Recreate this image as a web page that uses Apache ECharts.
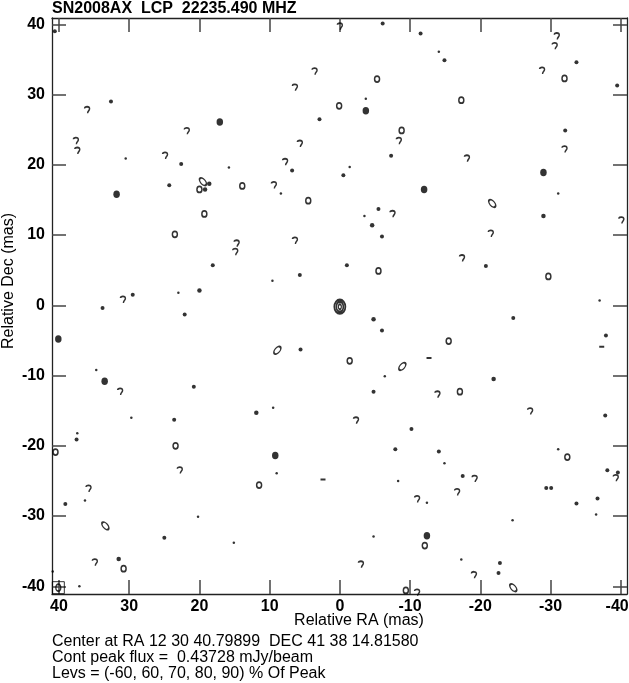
<!DOCTYPE html>
<html>
<head>
<meta charset="utf-8">
<script src="https://cdn.jsdelivr.net/npm/echarts@6/dist/echarts.min.js"></script>
<style>
  html, body { margin: 0; padding: 0; background: #fff; }
  #chart { width: 629px; height: 683px; }
</style>
</head>
<body>
<div id="chart"></div>
<script>
  // 轴刻度 (mas)
  const tickValues = [-40, -30, -20, -10, 0, 10, 20, 30, 40];

  // 等值线小块位置 [RA, Dec] (mas)
  const dots = [[40.6,39.0],[32.6,29.0],[22.6,20.1],[24.3,17.1],[-6.1,40.1],[-11.5,38.7],[2.9,26.5],[-7.3,21.3],[6.8,19.2],[-0.5,18.5],[-5.5,13.7],[-14.9,34.9],[-33.7,34.6],[-39.5,31.3],[-32.1,24.9],[18.1,5.7],[29.5,1.5],[33.8,-0.4],[22.1,-1.3],[20.8,-11.6],[-6.0,9.8],[-1.0,5.7],[5.7,4.3],[-6.0,-3.6],[5.6,-6.3],[-4.8,-12.3],[-20.8,5.6],[-24.7,-1.8],[-37.9,-4.3],[23.6,-16.3],[37.5,-19.1],[39.1,-28.3],[25.0,-33.1],[-10.2,-17.6],[-7.9,-20.5],[-37.8,-15.7],[-14.1,-20.8],[-17.5,-24.3],[-38.1,-23.5],[-39.6,-23.8],[-29.4,-26.0],[-30.1,-26.0],[-33.7,-28.2],[-36.7,-27.5],[-22.8,-36.7],[-22.6,-38.1]];
  const specks = [[30.5,20.9],[15.8,19.6],[-3.7,29.4],[-1.4,19.7],[8.4,15.9],[-14.1,36.1],[-31.1,15.9],[23.0,1.8],[34.7,-9.2],[-3.5,12.7],[9.6,3.5],[-6.4,-10.1],[-37.0,0.7],[29.7,-16.0],[37.4,-18.2],[36.3,-27.8],[20.2,-30.1],[15.1,-33.8],[40.9,-37.9],[37.1,-40.0],[9.5,-14.6],[9.0,-23.9],[-8.3,-25.0],[-12.4,-28.1],[-4.8,-32.9],[-14.9,-22.5],[-31.1,-20.5],[-36.5,-29.8],[-24.6,-30.6],[-17.3,-36.2]];
  const smallSpots = [[18.6,17.3],[19.2,16.5],[20.0,2.1],[-4.6,11.4],[-4.8,-2.0],[-29.0,12.7],[-21.9,-10.5],[31.5,-36.1],[11.9,-15.3]];
  const rings = [[20.0,16.5],[13.9,17.0],[-5.3,32.2],[0.1,28.4],[-8.8,24.9],[4.5,14.9],[-32.0,32.3],[-17.3,29.2],[19.3,13.0],[23.5,10.1],[-5.5,4.9],[-1.4,-7.9],[-29.7,4.1],[-15.5,-5.1],[-17.1,-12.3],[40.5,-20.9],[23.4,-20.0],[30.8,-37.5],[11.5,-25.6],[-12.1,-34.2],[-9.4,-40.6],[-32.4,-21.6]];
  const blobs = [[17.1,26.1],[31.8,15.8],[-3.7,27.7],[-12.0,16.5],[-29.0,18.9],[40.1,-4.8],[33.5,-10.8],[9.2,-21.4],[-12.4,-32.8]];
  const arcs = [[36.0,27.8],[21.8,24.8],[37.6,23.4],[37.4,22.0],[24.9,21.3],[0.0,39.7],[3.6,33.3],[6.4,31.0],[-8.4,23.4],[5.7,23.0],[7.8,20.4],[9.4,17.1],[-30.9,38.3],[-30.6,36.9],[-28.8,33.4],[-32.0,22.2],[-18.1,20.9],[14.7,8.8],[14.9,7.6],[30.9,0.8],[31.3,-12.3],[-7.5,13.0],[6.4,9.2],[-40.1,12.1],[-21.5,10.2],[-17.4,6.7],[-13.9,-12.7],[22.8,-23.5],[35.8,-26.1],[34.9,-36.6],[-2.3,-16.4],[-11.0,-27.6],[-3.0,-36.9],[-11.0,-40.9],[-27.1,-15.1],[-19.2,-24.7],[-16.7,-26.6],[-39.3,-24.6],[-19.1,-38.4]];
  const dashes = [[-12.7,-7.5],[-37.3,-5.9],[2.4,-24.8]];
  const ellipsesRising = [[8.9,-6.4],[-8.9,-8.7]];
  const ellipsesFalling = [[19.5,17.6],[-21.7,14.5],[33.4,-31.4],[-24.7,-40.2]];
  const peak = [[0.0,-0.2]];
  const beam = [[40.1,-40.2]];

  const titleText = 'SN2008AX  LCP  22235.490 MHZ';
  const footLines = [
    'Center at RA 12 30 40.79899  DEC 41 38 14.81580',
    'Cont peak flux =  0.43728 mJy/beam',
    'Levs = (-60, 60, 70, 80, 90) % Of Peak',
  ];

  const font = 'Liberation Sans, Arial, Helvetica, sans-serif';
  const ink = '#000';

  const labelStyle = { color: ink, fontFamily: font, fontWeight: 'bold', fontSize: 16 };

  const makeAxis = (isX, pos, showLabel) => ({
    type: 'value',
    position: pos,
    min: isX ? -40.9 : -41.1,
    max: isX ? 41.0 : 40.9,
    inverse: isX,
    splitLine: { show: false },
    axisLine: { show: true, onZero: false, lineStyle: { color: '#222', width: 1.3 } },
    axisTick: {
      show: true,
      inside: true,
      length: 14,
      customValues: tickValues,
      lineStyle: { color: '#444', width: 1.5 },
    },
    axisLabel: Object.assign(
      {
        show: true,
        customValues: tickValues,
        margin: isX ? 5 : 7,
        // 右端 -40 稍微左移，避免被画布裁掉
        formatter: (v) => (!showLabel ? '' : isX && v === -40 ? '{edge|' + v + '}' : '' + v),
        rich: { edge: Object.assign({ padding: [0, 7, 0, 0] }, labelStyle) },
      },
      labelStyle
    ),
  });

  const spots = (data, symbol, size, filled, extra) =>
    Object.assign(
      {
        type: 'scatter',
        data: data,
        symbol: symbol,
        symbolSize: size,
        silent: true,
        itemStyle: filled
          ? { color: ink }
          : { color: 'transparent', borderColor: ink, borderWidth: 1.6 },
      },
      extra || {}
    );

  const hook = 'path://M1,2.5 C1,0 6,0 6,3 C6,5 4,5.5 4,8';
  const lined = (w) => ({ itemStyle: { color: 'transparent', borderColor: ink, borderWidth: w } });

  const chart = echarts.init(document.getElementById('chart'));
  chart.setOption({
    animation: false,
    backgroundColor: '#fff',
    grid: { left: 52, right: 2, top: 18, bottom: 89, containLabel: false, outerBoundsMode: 'none' },
    title: {
      text: titleText,
      left: 52,
      top: 1,
      padding: 0,
      textStyle: { fontFamily: font, fontSize: 16, fontWeight: 'bold', color: ink },
    },
    xAxis: [makeAxis(true, 'bottom', true), makeAxis(true, 'top', false)],
    yAxis: [makeAxis(false, 'left', true), makeAxis(false, 'right', false)],
    graphic: [
      {
        type: 'text',
        x: 359,
        y: 621,
        style: { text: 'Relative RA (mas)', font: '16px ' + font, fill: ink, align: 'center', verticalAlign: 'middle' },
      },
      {
        type: 'text',
        x: 9,
        y: 281,
        rotation: Math.PI / 2,
        style: { text: 'Relative Dec (mas)', font: '16px ' + font, fill: ink, align: 'center', verticalAlign: 'middle' },
      },
    ].concat(
      footLines.map((t, i) => ({
        type: 'text',
        x: 52,
        y: 642 + i * 16,
        style: { text: t, font: '16px ' + font, fill: ink, verticalAlign: 'middle' },
      }))
    ),
    series: [
      spots(specks, 'circle', 2.5, true),
      spots(dots, 'circle', 4, true),
      spots(smallSpots, 'circle', 4.5, true),
      spots(blobs, 'circle', [6.5, 7.5], true),
      spots(rings, 'circle', [5, 6], false),
      spots(arcs, hook, [5, 6.5], false),
      spots(dashes, 'rect', [5, 2], true),
      spots(ellipsesRising, 'circle', [5, 9], false, { symbolRotate: -40 }),
      spots(ellipsesFalling, 'circle', [5, 9], false, { symbolRotate: 40 }),
      // 主源：多层等值线
      spots(peak, 'circle', [11, 14], false, lined(2)),
      spots(peak, 'circle', [7, 10], false, lined(2)),
      spots(peak, 'circle', [3, 5], false, lined(1.5)),
      // 波束
      spots(beam, 'rect', 12, false, lined(1)),
      spots(beam, 'circle', [5, 7], false, lined(1.5)),
    ],
  });

  window.addEventListener('resize', function () {
    chart && chart.resize();
  });
</script>
</body>
</html>
